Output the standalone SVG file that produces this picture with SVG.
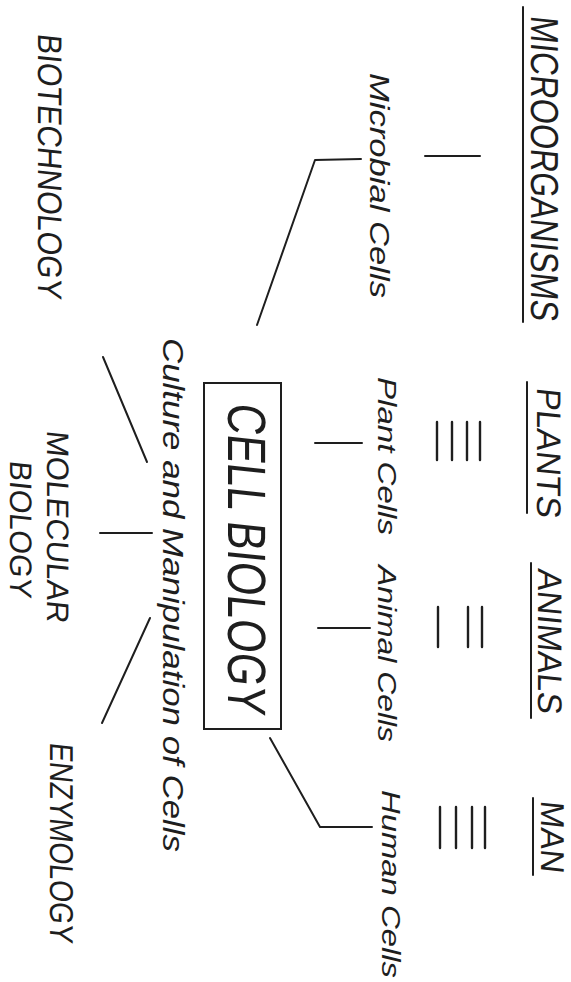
<svg xmlns="http://www.w3.org/2000/svg" width="571" height="982" viewBox="0 0 571 982">
  <style>
    .caps { font-family: "Liberation Sans", Arial, sans-serif; fill: #1e1e1e; }
    .hand { font-family: "Liberation Sans", Arial, sans-serif; font-style: italic; fill: #1e1e1e; }
    .ln { stroke: #1e1e1e; stroke-width: 2; fill: none; stroke-linecap: round; stroke-linejoin: round; }
    .bar { stroke: #1e1e1e; stroke-width: 2.4; stroke-linecap: round; }
  </style>
  <rect width="571" height="982" fill="#ffffff"/>

  <!-- organism groups (top row, underlined); caps lettering leans slightly -->
  <g id="microorganisms">
    <line class="ln" x1="523" y1="7" x2="523" y2="322"/>
    <text class="caps" font-size="39" transform="translate(531,15) rotate(90) skewX(-6)" textLength="305" lengthAdjust="spacingAndGlyphs">MICROORGANISMS</text>
  </g>
  <g id="plants">
    <line class="ln" x1="527" y1="382" x2="527" y2="513"/>
    <text class="caps" font-size="34" transform="translate(537,387) rotate(90) skewX(-6)" textLength="130" lengthAdjust="spacingAndGlyphs">PLANTS</text>
  </g>
  <g id="animals">
    <line class="ln" x1="531" y1="563" x2="531" y2="718"/>
    <text class="caps" font-size="34" transform="translate(538,568) rotate(90) skewX(-6)" textLength="145" lengthAdjust="spacingAndGlyphs">ANIMALS</text>
  </g>
  <g id="man">
    <line class="ln" x1="533" y1="798" x2="533" y2="875"/>
    <text class="caps" font-size="33" transform="translate(541,800) rotate(90) skewX(-6)" textLength="72" lengthAdjust="spacingAndGlyphs">MAN</text>
  </g>

  <!-- cell types -->
  <g id="microbial-cells">
    <text class="hand" font-size="27" transform="translate(370,73) rotate(90)" textLength="225" lengthAdjust="spacingAndGlyphs">Microbial Cells</text>
  </g>
  <g id="plant-cells">
    <text class="hand" font-size="26" transform="translate(378,377) rotate(90)" textLength="158" lengthAdjust="spacingAndGlyphs">Plant Cells</text>
  </g>
  <g id="animal-cells">
    <text class="hand" font-size="26" transform="translate(378,565) rotate(90)" textLength="177" lengthAdjust="spacingAndGlyphs">Animal Cells</text>
  </g>
  <g id="human-cells">
    <text class="hand" font-size="26" transform="translate(382,790) rotate(90)" textLength="188" lengthAdjust="spacingAndGlyphs">Human Cells</text>
  </g>

  <!-- central node -->
  <g id="cell-biology">
    <rect x="204" y="383" width="77" height="346" fill="none" stroke="#1e1e1e" stroke-width="2"/>
    <text class="caps" font-size="54" transform="translate(228,402) rotate(90) skewX(-6)" textLength="311" lengthAdjust="spacingAndGlyphs">CELL BIOLOGY</text>
  </g>
  <g id="culture">
    <text class="hand" font-size="30" transform="translate(163,338) rotate(90)" textLength="514" lengthAdjust="spacingAndGlyphs">Culture and Manipulation of Cells</text>
  </g>

  <!-- related disciplines -->
  <g id="biotechnology">
    <text class="caps" font-size="34" transform="translate(38,33) rotate(90) skewX(-6)" textLength="265" lengthAdjust="spacingAndGlyphs">BIOTECHNOLOGY</text>
  </g>
  <g id="molecular-biology">
    <text class="caps" font-size="31" transform="translate(47,430) rotate(90) skewX(-6)" textLength="192" lengthAdjust="spacingAndGlyphs">MOLECULAR</text>
    <text class="caps" font-size="31" transform="translate(10,460) rotate(90) skewX(-6)" textLength="137" lengthAdjust="spacingAndGlyphs">BIOLOGY</text>
  </g>
  <g id="enzymology">
    <text class="caps" font-size="33" transform="translate(50,742) rotate(90) skewX(-6)" textLength="200" lengthAdjust="spacingAndGlyphs">ENZYMOLOGY</text>
  </g>

  <!-- connectors -->
  <g id="connectors">
    <line class="ln" x1="425" y1="156" x2="480" y2="156"/>
    <polyline class="ln" points="361,159 315,160 257,325"/>
    <line class="ln" x1="315" y1="443" x2="362" y2="443"/>
    <line class="ln" x1="318" y1="628" x2="370" y2="628"/>
    <polyline class="ln" points="372,827 320,827 270,738"/>
    <line class="ln" x1="103" y1="357" x2="147" y2="462"/>
    <line class="ln" x1="100" y1="533" x2="152" y2="533"/>
    <line class="ln" x1="150" y1="618" x2="102" y2="723"/>
    <!-- equivalence bars -->
    <g>
      <line class="bar" x1="437" y1="422" x2="437" y2="460"/>
      <line class="bar" x1="452" y1="422" x2="452" y2="460"/>
      <line class="bar" x1="467" y1="422" x2="467" y2="460"/>
      <line class="bar" x1="480" y1="422" x2="480" y2="460"/>
    </g>
    <g>
      <line class="bar" x1="438" y1="607" x2="438" y2="647"/>
      <line class="bar" x1="468" y1="607" x2="468" y2="647"/>
      <line class="bar" x1="482" y1="607" x2="482" y2="647"/>
    </g>
    <g>
      <line class="bar" x1="440" y1="807" x2="440" y2="848"/>
      <line class="bar" x1="456" y1="807" x2="456" y2="848"/>
      <line class="bar" x1="472" y1="807" x2="472" y2="848"/>
      <line class="bar" x1="485" y1="807" x2="485" y2="848"/>
    </g>
  </g>
</svg>
